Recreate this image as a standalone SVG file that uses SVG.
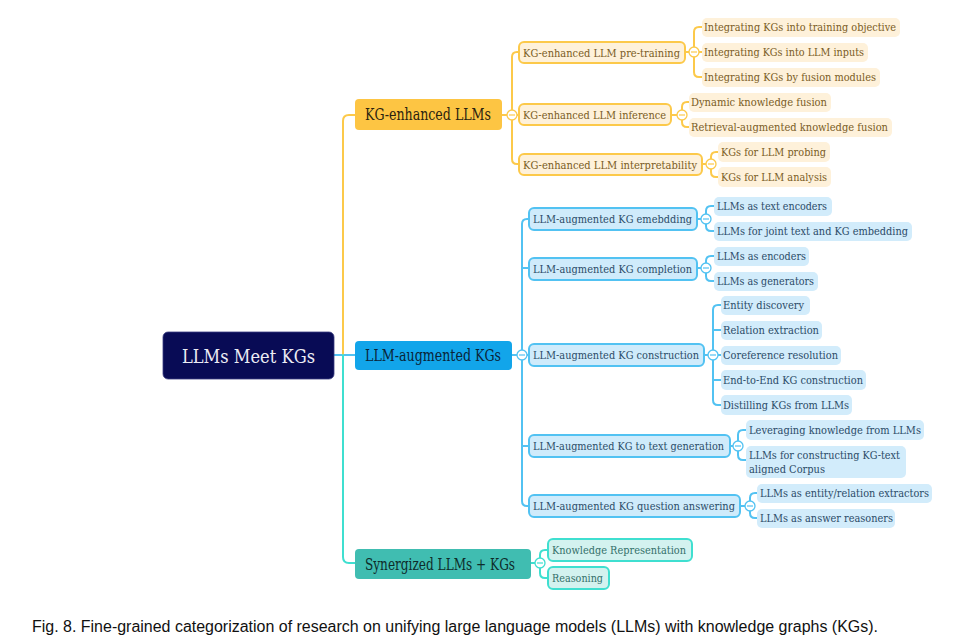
<svg xmlns="http://www.w3.org/2000/svg" width="957" height="642" viewBox="0 0 957 642">
<style>
text{font-family:"DejaVu Serif","Liberation Serif",serif;dominant-baseline:central}
text.cap{font-family:"Liberation Sans",Arial,sans-serif;font-size:16px;fill:#111}
.c{fill:none;stroke-width:2;stroke-linecap:round}
.cy{stroke:#FCC94A}.cb{stroke:#52C2F2}.ct{stroke:#3FDFD0}
.tog{fill:#fff;stroke-width:1.3}
.l1{font-size:16px}
.l2{font-size:11.5px}
.lf{font-size:11px}
.y2{fill:#FEF1DA;stroke:#FCC94A;stroke-width:2}
.yl{fill:#FEF1DA}
.yt{fill:#7A5C24}
.b2{fill:#CFEBFB;stroke:#52C2F2;stroke-width:2}
.bl{fill:#D2ECFB}
.bt{fill:#2B4B68}
.t2{fill:#D3F2EF;stroke:#3FDFD0;stroke-width:2}
.tt{fill:#33706A}
</style>
<defs>
<g id="togY"><circle r="5" class="tog" stroke="#FCC94A"/><line x1="-3" x2="3" stroke="#FCC94A" stroke-width="1.2"/></g>
<g id="togB"><circle r="5" class="tog" stroke="#52C2F2"/><line x1="-3" x2="3" stroke="#52C2F2" stroke-width="1.2"/></g>
<g id="togT"><circle r="5" class="tog" stroke="#3FDFD0"/><line x1="-3" x2="3" stroke="#3FDFD0" stroke-width="1.2"/></g>
</defs>
<rect width="957" height="642" fill="#fff"/>

<g id="connectors">
<path class="c cb" d="M334,355 H355"/>
<path class="c cy" d="M343,355 V121 Q343,115 349,115 H355"/>
<path class="c ct" d="M343,355 V557 Q343,563 349,563 H355"/>
<path class="c cy" d="M502,115 H507 M519,52 H517 Q512,52 512,57 V159 Q512,164 517,164 H519 M517,115 H519"/>
<path class="c cy" d="M685,52 H689 M702,27 H699 Q694,27 694,32 V72 Q694,77 699,77 H702 M699,52 H702"/>
<path class="c cy" d="M671,115 H677 M689,102 H687 Q682,102 682,107 V122 Q682,127 687,127 H689"/>
<path class="c cy" d="M702,164 H706 M718,152 H716 Q711,152 711,157 V172 Q711,177 716,177 H718"/>
<path class="c cb" d="M512,355 H517 M529,219 H527 Q522,219 522,224 V501 Q522,506 527,506 H529 M522,268 H529 M527,355 H529 M522,446 H529"/>
<path class="c cb" d="M697,219 H701 M714,206 H711 Q706,206 706,211 V226 Q706,231 711,231 H714"/>
<path class="c cb" d="M697,268 H701 M714,256 H711 Q706,256 706,261 V276 Q706,281 711,281 H714"/>
<path class="c cb" d="M704,355 H708 M721,305 H718 Q713,305 713,310 V400 Q713,405 718,405 H721 M713,330 H721 M718,355 H721 M713,380 H721"/>
<path class="c cb" d="M730,446 H733 M747,430 H743 Q738,430 738,435 V455 Q738,460 743,460 H747"/>
<path class="c cb" d="M740,506 H745 M757,493 H755 Q750,493 750,498 V513 Q750,518 755,518 H757"/>
<path class="c ct" d="M531,563 H535 M548,550 H545 Q540,550 540,555 V573 Q540,578 545,578 H548"/>
<use href="#togY" x="512" y="115"/>
<use href="#togY" x="694" y="52"/>
<use href="#togY" x="682" y="115"/>
<use href="#togY" x="711" y="164"/>
<use href="#togB" x="522" y="355"/>
<use href="#togB" x="706" y="219"/>
<use href="#togB" x="706" y="268"/>
<use href="#togB" x="713" y="355"/>
<use href="#togB" x="738" y="446"/>
<use href="#togB" x="750" y="506"/>
<use href="#togT" x="540" y="563"/>
</g>

<g id="root"><rect x="163" y="332" width="171" height="47" rx="5" fill="#080B55" stroke="#3a3d80" stroke-width="0.8"/><text x="182" y="355.5" font-size="19" fill="#ECECF4" textLength="133" lengthAdjust="spacingAndGlyphs">LLMs Meet KGs</text></g>

<g id="kg-enhanced-llms"><rect x="355" y="99" width="147" height="31" rx="4" fill="#FDC543"/><text class="l1" x="365" y="114.5" fill="#2A2210" textLength="126" lengthAdjust="spacingAndGlyphs">KG-enhanced LLMs</text></g>
<g id="llm-augmented-kgs"><rect x="355" y="341" width="157" height="29" rx="4" fill="#12A5EA"/><text class="l1" x="365" y="355.5" fill="#0A2438" textLength="136" lengthAdjust="spacingAndGlyphs">LLM-augmented KGs</text></g>
<g id="synergized"><rect x="355" y="549" width="176" height="30" rx="4" fill="#40BDB1"/><text class="l1" x="365" y="564" fill="#0E2C2A" textLength="150" lengthAdjust="spacingAndGlyphs">Synergized LLMs + KGs</text></g>

<g id="pretraining"><rect class="y2" x="519" y="42" width="166" height="21" rx="5"/><text class="l2 yt" x="523" y="52.5" textLength="157" lengthAdjust="spacingAndGlyphs">KG-enhanced LLM pre-training</text></g>
<g id="inference"><rect class="y2" x="519" y="104" width="152" height="21" rx="5"/><text class="l2 yt" x="523" y="114.5" textLength="143" lengthAdjust="spacingAndGlyphs">KG-enhanced LLM inference</text></g>
<g id="interpretability"><rect class="y2" x="519" y="154" width="183" height="21" rx="5"/><text class="l2 yt" x="523" y="164.5" textLength="174" lengthAdjust="spacingAndGlyphs">KG-enhanced LLM interpretability</text></g>

<g id="y-leaf1"><rect class="yl" x="702" y="18" width="198" height="19" rx="5"/><text class="lf yt" x="704" y="27.5" textLength="192" lengthAdjust="spacingAndGlyphs">Integrating KGs into training objective</text></g>
<g id="y-leaf2"><rect class="yl" x="702" y="43" width="166" height="19" rx="5"/><text class="lf yt" x="704" y="52.5" textLength="160" lengthAdjust="spacingAndGlyphs">Integrating KGs into LLM inputs</text></g>
<g id="y-leaf3"><rect class="yl" x="702" y="68" width="178" height="19" rx="5"/><text class="lf yt" x="704" y="77.5" textLength="172" lengthAdjust="spacingAndGlyphs">Integrating KGs by fusion modules</text></g>
<g id="y-leaf4"><rect class="yl" x="689" y="93" width="142" height="19" rx="5"/><text class="lf yt" x="691" y="102.5" textLength="136" lengthAdjust="spacingAndGlyphs">Dynamic knowledge fusion</text></g>
<g id="y-leaf5"><rect class="yl" x="689" y="118" width="203" height="19" rx="5"/><text class="lf yt" x="691" y="127.5" textLength="197" lengthAdjust="spacingAndGlyphs">Retrieval-augmented knowledge fusion</text></g>
<g id="y-leaf6"><rect class="yl" x="718" y="142" width="112" height="20" rx="5"/><text class="lf yt" x="721" y="152" textLength="105" lengthAdjust="spacingAndGlyphs">KGs for LLM probing</text></g>
<g id="y-leaf7"><rect class="yl" x="718" y="167" width="113" height="20" rx="5"/><text class="lf yt" x="721" y="177" textLength="106" lengthAdjust="spacingAndGlyphs">KGs for LLM analysis</text></g>

<g id="embedding"><rect class="b2" x="529" y="208" width="168" height="22" rx="5"/><text class="l2 bt" x="533" y="219" textLength="159" lengthAdjust="spacingAndGlyphs">LLM-augmented KG emebdding</text></g>
<g id="completion"><rect class="b2" x="529" y="258" width="168" height="22" rx="5"/><text class="l2 bt" x="533" y="269" textLength="159" lengthAdjust="spacingAndGlyphs">LLM-augmented KG completion</text></g>
<g id="construction"><rect class="b2" x="529" y="344" width="175" height="22" rx="5"/><text class="l2 bt" x="533" y="355" textLength="166" lengthAdjust="spacingAndGlyphs">LLM-augmented KG construction</text></g>
<g id="textgen"><rect class="b2" x="529" y="435" width="201" height="22" rx="5"/><text class="l2 bt" x="533" y="446" textLength="191" lengthAdjust="spacingAndGlyphs">LLM-augmented KG to text generation</text></g>
<g id="qa"><rect class="b2" x="529" y="495" width="211" height="22" rx="5"/><text class="l2 bt" x="533" y="506" textLength="202" lengthAdjust="spacingAndGlyphs">LLM-augmented KG question answering</text></g>

<g id="b-leaf1"><rect class="bl" x="714" y="197" width="118" height="19" rx="5"/><text class="lf bt" x="717" y="206.5" textLength="110" lengthAdjust="spacingAndGlyphs">LLMs as text encoders</text></g>
<g id="b-leaf2"><rect class="bl" x="714" y="222" width="198" height="19" rx="5"/><text class="lf bt" x="717" y="231.5" textLength="191" lengthAdjust="spacingAndGlyphs">LLMs for joint text and KG embedding</text></g>
<g id="b-leaf3"><rect class="bl" x="714" y="247" width="95" height="19" rx="5"/><text class="lf bt" x="717" y="256.5" textLength="89" lengthAdjust="spacingAndGlyphs">LLMs as encoders</text></g>
<g id="b-leaf4"><rect class="bl" x="714" y="272" width="104" height="19" rx="5"/><text class="lf bt" x="717" y="281.5" textLength="97" lengthAdjust="spacingAndGlyphs">LLMs as generators</text></g>
<g id="b-leaf5"><rect class="bl" x="721" y="296" width="89" height="19" rx="5"/><text class="lf bt" x="723" y="305.5" textLength="81" lengthAdjust="spacingAndGlyphs">Entity discovery</text></g>
<g id="b-leaf6"><rect class="bl" x="721" y="321" width="101" height="19" rx="5"/><text class="lf bt" x="723" y="330.5" textLength="96" lengthAdjust="spacingAndGlyphs">Relation extraction</text></g>
<g id="b-leaf7"><rect class="bl" x="721" y="346" width="120" height="19" rx="5"/><text class="lf bt" x="723" y="355.5" textLength="115" lengthAdjust="spacingAndGlyphs">Coreference resolution</text></g>
<g id="b-leaf8"><rect class="bl" x="721" y="370" width="145" height="20" rx="5"/><text class="lf bt" x="723" y="380" textLength="140" lengthAdjust="spacingAndGlyphs">End-to-End KG construction</text></g>
<g id="b-leaf9"><rect class="bl" x="721" y="395" width="131" height="20" rx="5"/><text class="lf bt" x="723" y="405" textLength="126" lengthAdjust="spacingAndGlyphs">Distilling KGs from LLMs</text></g>
<g id="b-leaf10"><rect class="bl" x="746" y="420" width="178" height="20" rx="5"/><text class="lf bt" x="749" y="430" textLength="172" lengthAdjust="spacingAndGlyphs">Leveraging knowledge from LLMs</text></g>
<g id="b-leaf11"><rect class="bl" x="746" y="446" width="160" height="32" rx="5"/><text class="lf bt" x="749" y="455.5" textLength="151" lengthAdjust="spacingAndGlyphs">LLMs for constructing KG-text</text><text class="lf bt" x="749" y="469" textLength="76" lengthAdjust="spacingAndGlyphs">aligned Corpus</text></g>
<g id="b-leaf12"><rect class="bl" x="757" y="484" width="175" height="19" rx="5"/><text class="lf bt" x="760" y="493.5" textLength="169" lengthAdjust="spacingAndGlyphs">LLMs as entity/relation extractors</text></g>
<g id="b-leaf13"><rect class="bl" x="757" y="509" width="138" height="19" rx="5"/><text class="lf bt" x="760" y="518.5" textLength="133" lengthAdjust="spacingAndGlyphs">LLMs as answer reasoners</text></g>

<g id="knowledge-representation"><rect class="t2" x="548" y="539" width="144" height="22" rx="5"/><text class="l2 tt" x="552" y="550" textLength="134" lengthAdjust="spacingAndGlyphs">Knowledge Representation</text></g>
<g id="reasoning"><rect class="t2" x="548" y="567" width="61" height="22" rx="5"/><text class="l2 tt" x="552" y="578" textLength="51" lengthAdjust="spacingAndGlyphs">Reasoning</text></g>

<text class="cap" x="32" y="626" textLength="846" lengthAdjust="spacingAndGlyphs">Fig. 8. Fine-grained categorization of research on unifying large language models (LLMs) with knowledge graphs (KGs).</text>
</svg>
